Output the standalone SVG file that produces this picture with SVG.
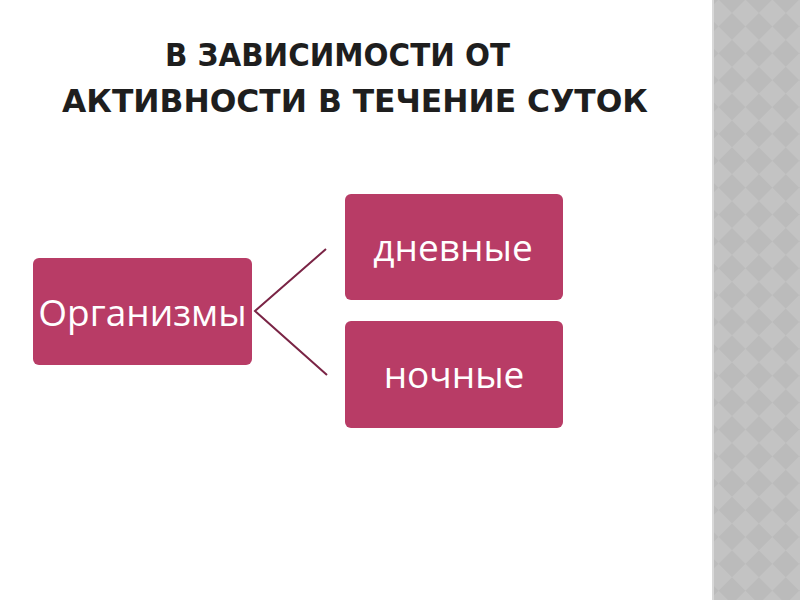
<svg xmlns="http://www.w3.org/2000/svg" width="800" height="600" viewBox="0 0 800 600">
<defs>
<pattern id="chk" patternUnits="userSpaceOnUse" width="38" height="38" patternTransform="translate(732 13) rotate(45)">
<rect width="38" height="38" fill="#c3c3c3"/>
<rect width="19" height="19" fill="#bbbbbb"/>
<rect x="19" y="19" width="19" height="19" fill="#bbbbbb"/>
</pattern>
<style>
.box{fill:#b83c66;}
.lbl{font-family:"Open Sans","DejaVu Sans",sans-serif;font-size:37px;fill:#ffffff;text-anchor:middle;}
.ttl{font-family:"DejaVu Sans",sans-serif;font-stretch:condensed;font-weight:bold;font-size:32px;fill:#1e1e1e;}
.con{stroke:#7a2445;stroke-width:2;fill:none;}
</style>
</defs>
<rect width="800" height="600" fill="#ffffff"/>
<rect x="712" y="0" width="88" height="600" fill="url(#chk)"/>
<rect x="712" y="0" width="2" height="600" fill="#d8d8d8"/>
<g id="title">
<text class="ttl" x="165" y="66" textLength="345" lengthAdjust="spacingAndGlyphs">В ЗАВИСИМОСТИ ОТ</text>
<text class="ttl" x="62" y="112" textLength="586" lengthAdjust="spacingAndGlyphs">АКТИВНОСТИ В ТЕЧЕНИЕ СУТОК</text>
</g>
<g id="connectors">
<polyline class="con" points="326,249 255,311 327,375"/>
</g>
<g id="node-organisms">
<rect class="box" x="33" y="258" width="219" height="107" rx="6"/>
<text class="lbl" x="142.5" y="326">Организмы</text>
</g>
<g id="node-day">
<rect class="box" x="345" y="194" width="218" height="106" rx="6"/>
<text class="lbl" x="453" y="261">дневные</text>
</g>
<g id="node-night">
<rect class="box" x="345" y="321" width="218" height="107" rx="6"/>
<text class="lbl" x="454" y="388">ночные</text>
</g>
</svg>
